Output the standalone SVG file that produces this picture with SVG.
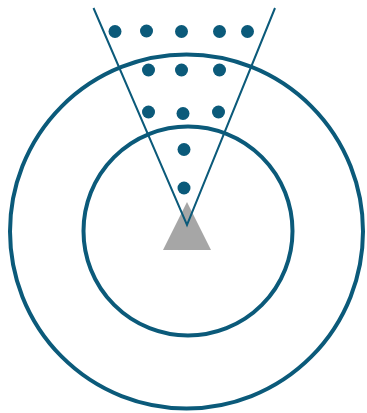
<svg xmlns="http://www.w3.org/2000/svg" width="367" height="413" viewBox="0 0 367 413">
<style>
.ring{fill:none;stroke:#0b5a7a;stroke-width:4}
.ray{fill:none;stroke:#0b5a7a;stroke-width:2}
.dot{fill:#0b5a7a}
</style>
<rect width="367" height="413" fill="#fff"/>
<g id="outer-ring"><ellipse class="ring" cx="186.5" cy="231.5" rx="176.5" ry="177"/></g>
<g id="inner-ring"><circle class="ring" cx="188" cy="231" r="104.5"/></g>
<g id="source"><polygon points="187,202 211,250 163,250" fill="#a6a6a6"/></g>
<g id="connectors">
<polyline class="ray" points="93.5,8 187,225 275,8"/>
</g>
<g id="dots">
<circle class="dot" cx="115" cy="31.5" r="6.5"/>
<circle class="dot" cx="146.5" cy="31" r="6.5"/>
<circle class="dot" cx="181.5" cy="31.5" r="6.5"/>
<circle class="dot" cx="219.5" cy="31.5" r="6.5"/>
<circle class="dot" cx="247.5" cy="31.5" r="6.5"/>
<circle class="dot" cx="148.5" cy="70" r="6.5"/>
<circle class="dot" cx="181.5" cy="70" r="6.5"/>
<circle class="dot" cx="219.5" cy="70" r="6.5"/>
<circle class="dot" cx="148.5" cy="112" r="6.5"/>
<circle class="dot" cx="183" cy="113.5" r="6.5"/>
<circle class="dot" cx="218.5" cy="112" r="6.5"/>
<circle class="dot" cx="184" cy="149.5" r="6.5"/>
<circle class="dot" cx="184" cy="188" r="6.5"/>
</g>
</svg>
